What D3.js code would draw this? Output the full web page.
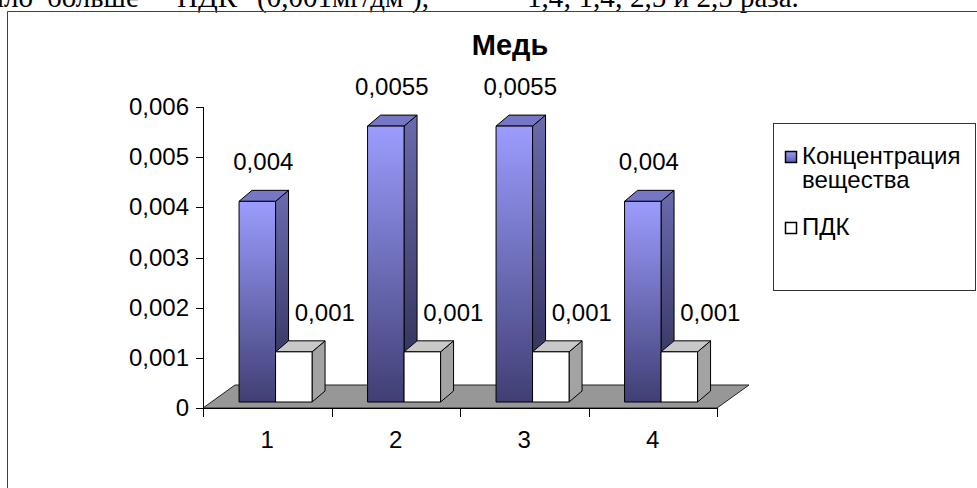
<!DOCTYPE html>
<html>
<head>
<meta charset="utf-8">
<script src="https://cdn.jsdelivr.net/npm/d3@7"></script>
<style>
  html, body { margin: 0; padding: 0; background: #fff; }
  svg { display: block; }
</style>
</head>
<body>
<script>
// Chart data: copper concentration at four sampling points vs. the permissible limit
const categories = ["1", "2", "3", "4"];
const seriesNames = ["Концентрация вещества", "ПДК"];
const concentration = [0.004, 0.0055, 0.0055, 0.004];
const pdk = [0.001, 0.001, 0.001, 0.001];
const yTickValues = [0, 0.001, 0.002, 0.003, 0.004, 0.005, 0.006];
const chartTitle = "Медь";
const docLineWords = ["было", "больше", "ПДК", "(0,001мг/дм³),", "1,4; 1,4; 2,5 и 2,5 раза."];

const W = 977, H = 488;
const svg = d3.select("body").append("svg").attr("width", W).attr("height", H);
const defs = svg.append("defs");

const ru = d3.formatLocale({ decimal: ",", thousands: " ", grouping: [3], currency: ["", " ₽"] });
const fmt = ru.format("~g");

// ---- surrounding report text, the line just above the chart frame
const docX = [33, 47, 177, 257, 527];
const docText = svg.append("g")
  .attr("font-family", "'Liberation Serif', 'Times New Roman', serif")
  .attr("font-size", 29).attr("fill", "#000");
docLineWords.forEach((w, i) => {
  docText.append("text")
    .attr("x", docX[i]).attr("y", 7)
    .attr("text-anchor", i === 0 ? "end" : "start")
    .text(w);
});

// ---- chart frame
svg.append("path")
  .attr("d", `M7.5,${H + 2} V11.5 H${W + 2}`)
  .attr("fill", "none").attr("stroke", "#404040").attr("stroke-width", 1);

// ---- scales
const y = d3.scaleLinear().domain([0, 0.006]).range([408, 107]);
const x0 = d3.scaleBand().domain(categories).range([203, 717]);
const groupW = 73;
const x1 = d3.scaleBand().domain(d3.range(seriesNames.length)).range([0, groupW]);

// 3D projection offsets
const floorDepth = { dx: 32, dy: -23 };
const barShift = { dx: 8.3, dy: -6 };   // bars stand a little back from the floor's front edge
const barDepth = { dx: 13, dy: -11 };

// ---- gradients
function vGrad(id, c0, c1) {
  const g = defs.append("linearGradient").attr("id", id)
    .attr("x1", 0).attr("y1", 0).attr("x2", 0).attr("y2", 1);
  g.append("stop").attr("offset", "0%").attr("stop-color", c0);
  g.append("stop").attr("offset", "100%").attr("stop-color", c1);
}
vGrad("blueFront", "#9c9cff", "#3f3f74");
vGrad("blueSide", "#6a6aae", "#2c2c52");
vGrad("blueSwatch", "#9c9cff", "#5c5cb0");

const seriesStyle = [
  { front: "url(#blueFront)", side: "url(#blueSide)", top: "#7676c6", swatch: "url(#blueSwatch)" },
  { front: "#ffffff", side: "#a3a3a3", top: "#c8c8c8", swatch: "#ffffff" }
];

// ---- floor
const x0L = x0.range()[0], x0R = x0.range()[1], yBase = y(0);
svg.append("path")
  .attr("d", d3.line()([
    [x0L, yBase], [x0R, yBase],
    [x0R + floorDepth.dx, yBase + floorDepth.dy],
    [x0L + floorDepth.dx, yBase + floorDepth.dy]
  ]) + "Z")
  .attr("fill", "#979797").attr("stroke", "#222").attr("stroke-width", 1);

// ---- bars
const seriesValues = [concentration, pdk];
const groupLeft = c => x0(c) + (x0.bandwidth() - groupW) / 2 + barShift.dx;
const bars = svg.append("g").attr("stroke", "#000").attr("stroke-width", 1).attr("stroke-linejoin", "round");
categories.forEach((c, ci) => {
  const gx = groupLeft(c);
  seriesValues.forEach((vals, si) => {
    const v = vals[ci];
    const left = gx + x1(si), right = left + x1.bandwidth();
    const top = y(v) + barShift.dy, bottom = y(0) + barShift.dy;
    const st = seriesStyle[si];
    const g = bars.append("g");
    g.append("path") // side face
      .attr("d", d3.line()([[right, top], [right + barDepth.dx, top + barDepth.dy],
        [right + barDepth.dx, bottom + barDepth.dy], [right, bottom]]) + "Z")
      .attr("fill", st.side);
    g.append("path") // top face
      .attr("d", d3.line()([[left, top], [left + barDepth.dx, top + barDepth.dy],
        [right + barDepth.dx, top + barDepth.dy], [right, top]]) + "Z")
      .attr("fill", st.top);
    g.append("rect") // front face
      .attr("x", left).attr("y", top)
      .attr("width", right - left).attr("height", bottom - top)
      .attr("fill", st.front);
  });
});

// ---- axes
const axisG = svg.append("g").attr("stroke", "#000").attr("stroke-width", 1).attr("fill", "none");
axisG.append("line").attr("x1", 203.5).attr("x2", 203.5).attr("y1", y(0.006)).attr("y2", y(0) + 0.5);
axisG.append("line").attr("x1", 203).attr("x2", x0R).attr("y1", y(0) + 0.5).attr("y2", y(0) + 0.5);
yTickValues.forEach(t => {
  axisG.append("line").attr("x1", 196).attr("x2", 203.5)
    .attr("y1", Math.round(y(t)) + 0.5).attr("y2", Math.round(y(t)) + 0.5);
});
[...categories.map(c => x0(c)), x0R].forEach(xv => {
  axisG.append("line").attr("x1", Math.round(xv) + 0.5).attr("x2", Math.round(xv) + 0.5)
    .attr("y1", y(0)).attr("y2", y(0) + 9);
});

const labelFont = "'Liberation Sans', Arial, sans-serif";
const fontSize = 24;
svg.append("g").attr("font-family", labelFont).attr("font-size", fontSize).attr("fill", "#000")
  .selectAll("text").data(yTickValues).join("text")
  .attr("x", 189).attr("y", d => y(d) + 8)
  .attr("text-anchor", "end").text(d => fmt(d));

svg.append("g").attr("font-family", labelFont).attr("font-size", fontSize).attr("fill", "#000")
  .selectAll("text").data(categories).join("text")
  .attr("x", d => x0(d) + x0.bandwidth() / 2).attr("y", 448)
  .attr("text-anchor", "middle").text(d => d);

// ---- data labels
const labelDx = [6, 31];
const dl = svg.append("g").attr("font-family", labelFont).attr("font-size", fontSize).attr("fill", "#000")
  .attr("text-anchor", "middle");
categories.forEach((c, ci) => {
  const gx = groupLeft(c);
  seriesValues.forEach((vals, si) => {
    const v = vals[ci];
    const cx = gx + x1(si) + x1.bandwidth() / 2 + labelDx[si];
    dl.append("text").attr("x", cx).attr("y", y(v) + barShift.dy - 31).text(fmt(v));
  });
});

// ---- title
svg.append("text").attr("x", 510).attr("y", 55).attr("text-anchor", "middle")
  .attr("font-family", labelFont).attr("font-weight", "bold").attr("font-size", 29)
  .text(chartTitle);

// ---- legend
const lg = svg.append("g");
lg.append("rect").attr("x", 773.5).attr("y", 123.5).attr("width", 202).attr("height", 167)
  .attr("fill", "#fff").attr("stroke", "#333");
const legendRowY = [164, 235];
seriesNames.forEach((name, i) => {
  const rowY = legendRowY[i];
  lg.append("rect").attr("x", 785.5).attr("y", rowY - 12.5).attr("width", 11).attr("height", 11)
    .attr("fill", seriesStyle[i].swatch).attr("stroke", "#000").attr("stroke-width", 1.5);
  const t = lg.append("text").attr("font-family", labelFont).attr("font-size", fontSize).attr("fill", "#000");
  name.split(" ").forEach((ln, k) => {
    t.append("tspan").attr("x", 802).attr("y", rowY + k * 24).text(ln);
  });
});
</script>
</body>
</html>
